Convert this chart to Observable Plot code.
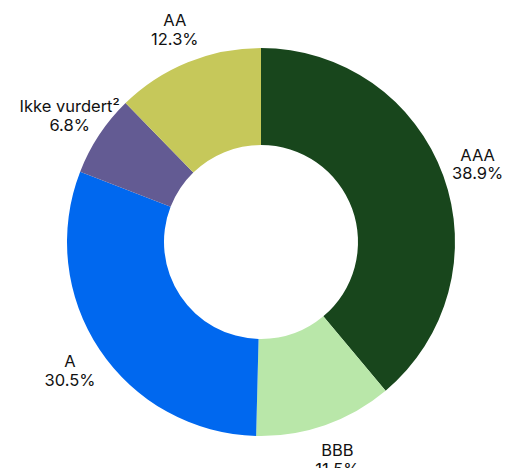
<!DOCTYPE html>
<html>
<head>
<meta charset="utf-8">
<script src="https://cdn.jsdelivr.net/npm/d3@7"></script>
<script src="https://cdn.jsdelivr.net/npm/@observablehq/plot@0.6"></script>
<style>
  html, body { margin: 0; padding: 0; background: #fff; }
</style>
</head>
<body>
<div id="chart"></div>
<script>
const categories = ["AAA", "BBB", "A", "Ikke vurdert²", "AA"];
const values = [38.9, 11.5, 30.5, 6.8, 12.3];
const colors = ["#18461c", "#b9e7a9", "#0068ef", "#635b93", "#c6c85a"];

const data = categories.map((c, i) => ({category: c, value: values[i], color: colors[i]}));
const arcs = d3.pie().sort(null).value(d => d.value)(data);

const outerR = 194, innerR = 97, labelR = 230;
const labels = arcs.map(a => {
  const m = (a.startAngle + a.endAngle) / 2;
  return {x: labelR * Math.sin(m), y: labelR * Math.cos(m),
          text: `${a.data.category}\n${a.data.value.toFixed(1)}%`};
});

const donut = (index, scales, values, dimensions, context) => {
  const g = d3.create("svg:g");
  const cx = scales.x(0), cy = scales.y(0);
  const k = scales.x(1) - scales.x(0);
  const arc = d3.arc().innerRadius(innerR * k).outerRadius(outerR * k);
  g.attr("transform", `translate(${cx},${cy})`)
    .selectAll("path").data(arcs).join("path")
    .attr("d", arc)
    .attr("fill", d => d.data.color);
  return g.node();
};

const chart = Plot.plot({
  width: 507,
  height: 468,
  margin: 0,
  x: {domain: [-261, 246], axis: null},
  y: {domain: [-226, 242], axis: null},
  style: {fontFamily: "Inter, sans-serif", background: "#fff"},
  marks: [
    donut,
    Plot.text(labels, {x: "x", y: "y", text: "text", fontSize: 16.5, lineHeight: 1.15, fill: "#111", textAnchor: "middle"})
  ]
});
document.getElementById("chart").append(chart);
</script>
</body>
</html>
